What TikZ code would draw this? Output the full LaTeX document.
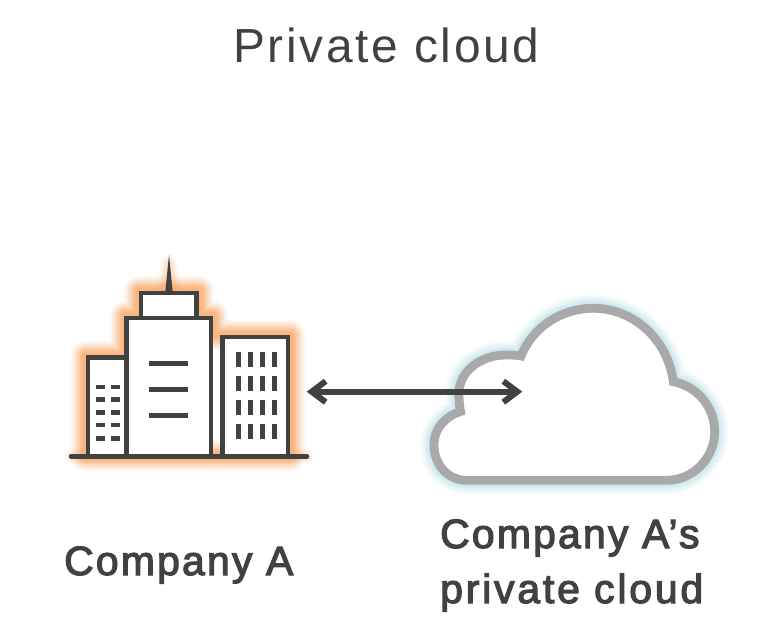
\documentclass[tikz,border=0pt]{standalone}
\usepackage{fontspec}
\setmainfont[LetterSpace=5.7]{Liberation Sans}
\newfontfamily\labelfont[FakeBold=3,LetterSpace=5.5]{Liberation Sans}
\newfontfamily\labelfontw[FakeBold=3,LetterSpace=7]{Liberation Sans}
\usetikzlibrary{arrows.meta}
\definecolor{ink}{HTML}{404241}
\definecolor{cloudgrey}{HTML}{A9A9A9}
\definecolor{glowO}{HTML}{FB9A4E}
\definecolor{glowB}{HTML}{A8DDE6}
\tikzset{
  wall/.style={draw=ink,line width=4.6bp,line join=miter},
  bar/.style={draw=ink,line width=5bp},
  titletext/.style={text=ink,anchor=base west,inner sep=0pt,font=\fontsize{48}{48}\selectfont},
  labeltext/.style={text=ink,anchor=base west,inner sep=0pt,font=\labelfont\fontsize{41}{41}\selectfont},
  labeltextw/.style={text=ink,anchor=base west,inner sep=0pt,font=\labelfontw\fontsize{41}{41}\selectfont},
}
\def\bldg{(86,456) -- (86,355.5) -- (124.5,355.5) -- (124.5,316) -- (139,316) -- (139,291) -- (199,291) -- (199,316) -- (213,316) -- (213,335) -- (290,335) -- (290,456) -- cycle}
\def\cloudpath{(466.7,480.3) -- (666.7,480.3)
  .. controls (693,480.3) and (714.7,458) .. (714.7,431.7)
  .. controls (714.7,407) and (697,386) .. (673.3,381.7)
  .. controls (668,340) and (634,308.3) .. (593.3,308.3)
  .. controls (561,308.3) and (533,327) .. (521,356)
  .. controls (516,355) and (511,355) .. (506,355)
  .. controls (480,355) and (459,372) .. (459,393)
  .. controls (459,400) and (459.5,406) .. (460.5,411.5)
  .. controls (446,416) and (434,428) .. (434,445)
  .. controls (434,465) and (448,480.3) .. (466.7,480.3) -- cycle}
\begin{document}
\begin{tikzpicture}[x=1bp,y=-1bp]
\useasboundingbox (0,0) rectangle (777,638);
\fill[white] (0,0) rectangle (777,638);
% glow of the building
\foreach \w/\o in {32/0.02,30/0.03,28/0.04,26/0.05,24/0.06,22/0.07,20/0.08,18/0.09,16/0.1,14/0.11,12/0.12,10/0.12,8/0.12,6/0.12}{
  \draw[draw=glowO,opacity=\o,line width=\w bp,line join=round] \bldg;
}
\foreach \w/\o in {18/0.03,15/0.05,12/0.07,9/0.09,6/0.1}{
  \draw[draw=glowO,opacity=\o,line width=\w bp,line join=round] (165.3,292) -- (169,264) -- (172.7,292) -- cycle;
}
\foreach \w/\o in {16/0.03,13/0.05,10/0.07}{
  \draw[draw=glowO,opacity=\o,line width=\w bp,line cap=round] (72,456) -- (306,456);
}
% building
\fill[white] (88,357.5) rectangle (126.7,456);
\fill[white] (126.7,318) rectangle (211,456);
\fill[white] (141,293) rectangle (196.7,318);
\fill[white] (222.7,337) rectangle (288,456);
\draw[wall] (88,456) -- (88,357.5) -- (126.7,357.5);
\draw[wall] (126.7,456) -- (126.7,318) -- (211,318) -- (211,456);
\draw[wall] (141,318) -- (141,293) -- (196.7,293) -- (196.7,318);
\draw[wall] (222.7,456) -- (222.7,337) -- (288,337) -- (288,456);
\fill[ink] (165.3,292) -- (169,255) -- (172.7,292) -- cycle;
\draw[draw=ink,line width=4.5bp,line cap=round] (71,456.3) -- (307,456.3);
\foreach \y in {363.7,389.3,415}{ \draw[bar] (149,\y) -- (188,\y); }
\foreach \x in {238,250,262,274}{
  \foreach \y in {352,376,400,424}{ \draw[bar] (\x,\y) -- (\x,\y+14.7); }
}
\foreach \y in {387,399.7,412.3,425,438.3}{
  \draw[draw=ink,line width=4.5bp] (96.3,\y) -- (105.3,\y);
  \draw[draw=ink,line width=4.5bp] (111,\y) -- (120,\y);
}
% cloud
\foreach \w/\o in {30/0.02,28/0.03,26/0.04,24/0.05,22/0.06,20/0.07,18/0.08,16/0.1,14/0.12,12/0.12}{
  \draw[draw=glowB,opacity=\o,line width=\w bp,line join=round] \cloudpath;
}
\draw[draw=cloudgrey,fill=white,line width=8.8bp,line join=miter] \cloudpath;
% connector
\coordinate (linkA) at (306.7,391.7);
\coordinate (linkB) at (522.3,391.7);
\draw[draw=ink,line width=6bp,{Straight Barb[length=14bp,width=21bp,line width=6bp]}-{Straight Barb[length=14bp,width=21bp,line width=6bp]}] (linkA) -- (linkB);
% text
\node[titletext] (title) at (233,63) {Private cloud};
\node[labeltext] (labA) at (64,575) {Company A};
\node[labeltext] (labB1) at (440,548) {Company A’s};
\node[labeltextw] (labB2) at (440,603) {private cloud};
\end{tikzpicture}
\end{document}
